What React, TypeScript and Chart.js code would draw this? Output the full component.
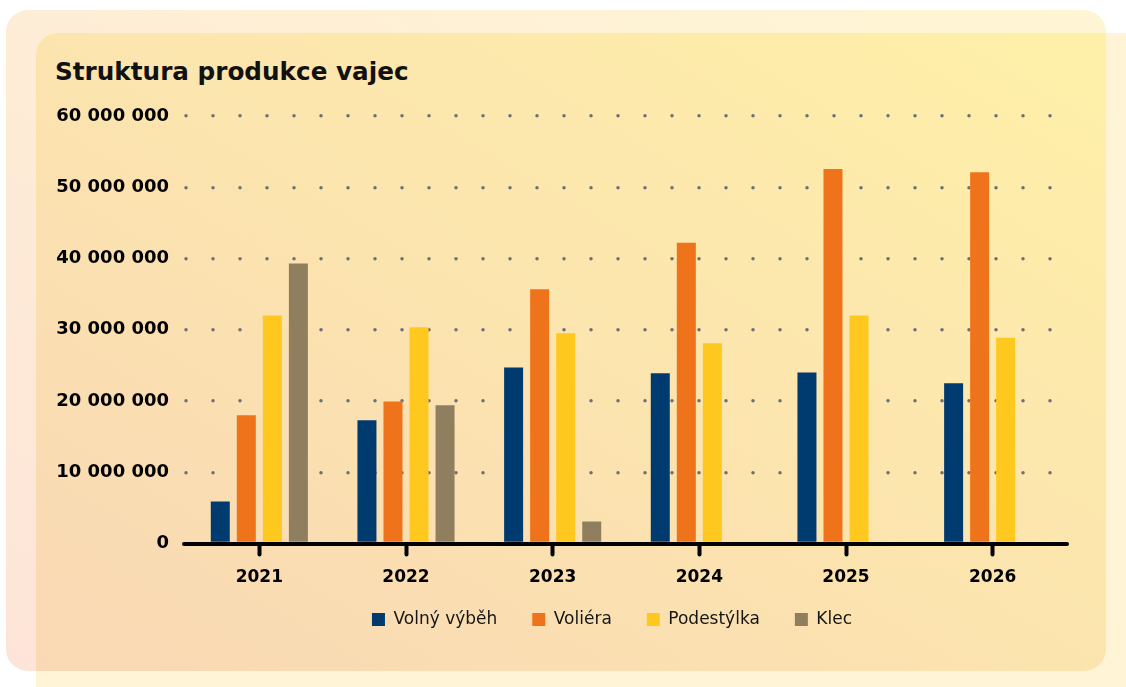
import React, { useEffect, useRef } from "react";
import { Chart, registerables } from "chart.js";

Chart.register(...registerables);

const years = ["2021", "2022", "2023", "2024", "2025", "2026"];
const seriesNames = ["Volný výběh", "Voliéra", "Podestýlka", "Klec"];
const volnyVybeh = [5900000, 17300000, 24700000, 23900000, 24000000, 22500000];
const voliera = [18000000, 19950000, 35700000, 42200000, 52550000, 52100000];
const podestylka = [32000000, 30350000, 29500000, 28100000, 32000000, 28900000];
const klec = [39300000, 19400000, 3100000, null, null, null];
const yMin = 0;
const yMax = 60000000;
const yStep = 10000000;
const titleText = "Struktura produkce vajec";

const colors = ["#003b70", "#ee731b", "#fec81f", "#8f7f5f"];

const fmt = (v: number) => String(v).replace(/\B(?=(\d{3})+(?!\d))/g, " ");

const roundCap = {
  id: "roundCap",
  beforeDraw(chart: any) {
    chart.ctx.lineCap = "round";
  },
};

// place the legend block: centred at x = 612, items on y = 619
const legendPlace = {
  id: "legendPlace",
  afterLayout(chart: any) {
    const lg = chart.legend;
    if (!lg) return;
    const dx = 612 - (lg.left + lg.right) / 2;
    lg.left += dx;
    lg.right += dx;
    const dy = 576 - lg.top;
    lg.top += dy;
    lg.bottom += dy;
  },
};

export default function App() {
  const ref = useRef<HTMLCanvasElement | null>(null);

  useEffect(() => {
    if (!ref.current) return;
    const font = "'DejaVu Sans', sans-serif";
    const chart = new Chart(ref.current, {
      type: "bar",
      data: {
        labels: years,
        datasets: [volnyVybeh, voliera, podestylka, klec].map((d, i) => ({
          label: seriesNames[i],
          data: d as any,
          backgroundColor: colors[i],
          borderWidth: 0,
          barPercentage: 0.73,
          categoryPercentage: 0.71,
        })),
      },
      options: {
        responsive: false,
        animation: false,
        devicePixelRatio: 1,
        layout: { padding: { top: 116, left: 40, right: 60, bottom: 24 } },
        plugins: {
          title: { display: false },
          tooltip: { enabled: false },
          legend: {
            position: "bottom",
            labels: {
              boxWidth: 13,
              boxHeight: 13,
              padding: 35,
              color: "#161616",
              font: { family: font, size: 17, weight: "normal" },
            },
          },
        },
        scales: {
          x: {
            z: 1,
            grid: {
              offset: false,
              drawOnChartArea: false,
              drawTicks: true,
              tickLength: 11,
              tickWidth: 4,
              tickColor: "#000",
              color: "#000",
            },
            border: { display: true, color: "#000", width: 4 },
            ticks: {
              color: "#000",
              padding: 13,
              font: { family: font, size: 17, weight: "bold" },
            },
          },
          y: {
            min: yMin,
            max: yMax,
            afterFit(scale: any) {
              scale.width = 146;
            },
            grid: {
              drawTicks: false,
              color: "#6c6f7a",
              lineWidth: 3.5,
            },
            border: { display: false, dash: [0, 27] },
            ticks: {
              stepSize: yStep,
              color: "#000",
              padding: 17,
              font: { family: font, size: 18, weight: "bold" },
              callback: (v: any) => fmt(Number(v)),
            },
          },
        },
      },
      plugins: [roundCap, legendPlace],
    });
    return () => chart.destroy();
  }, []);

  return (
    <div style={{ position: "absolute", left: 0, top: 0, width: 1126, height: 687, overflow: "hidden", background: "#fff" }}>
      <div
        style={{
          position: "absolute",
          left: 6,
          top: 10,
          width: 1100,
          height: 661,
          borderRadius: 22,
          background: "linear-gradient(to top right, #fde4d8, #fff6d4)",
        }}
      />
      <div
        style={{
          position: "absolute",
          left: 36,
          top: 33,
          width: 1120,
          height: 680,
          borderRadius: 22,
          background: "#fff5d6",
        }}
      />
      <div
        style={{
          position: "absolute",
          left: 36,
          top: 33,
          width: 1070,
          height: 638,
          borderRadius: "22px 0 22px 0",
          background: "linear-gradient(to top right, #f9d8b5, #fef0a8)",
        }}
      />
      <div
        style={{
          position: "absolute",
          left: 55,
          top: 59,
          fontFamily: "'DejaVu Sans', sans-serif",
          fontWeight: "bold",
          fontSize: 24.7,
          lineHeight: "25px",
          color: "#111",
          whiteSpace: "nowrap",
        }}
      >
        {titleText}
      </div>
      <canvas ref={ref} width={1126} height={687} style={{ position: "absolute", left: 0, top: 0, width: 1126, height: 687 }} />
    </div>
  );
}
